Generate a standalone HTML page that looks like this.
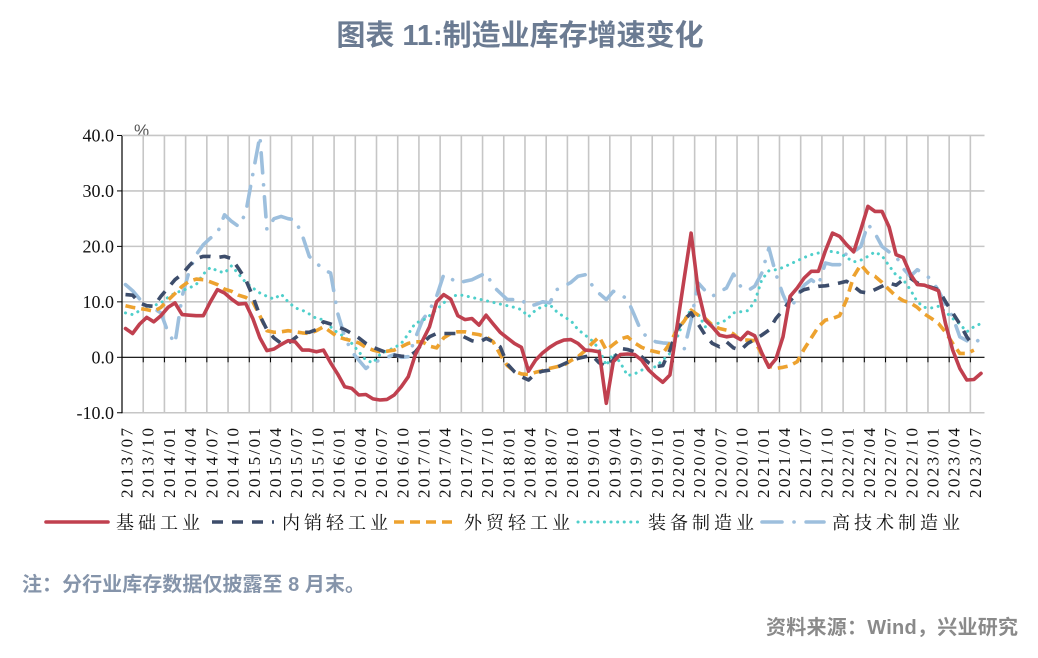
<!DOCTYPE html>
<html><head><meta charset="utf-8"><style>
body{margin:0;background:#fff;width:1038px;height:658px;overflow:hidden;font-family:"Liberation Sans","Noto Sans CJK SC",sans-serif}
svg{position:absolute;left:0;top:0}
</style></head><body>
<svg id="chart" width="1038" height="658" xmlns="http://www.w3.org/2000/svg">
<text x="520" y="45" text-anchor="middle" font-family="'Liberation Sans','Noto Sans CJK SC',sans-serif" font-size="29" font-weight="bold" fill="#6b7b92">图表 11:制造业库存增速变化</text>
<text x="134" y="136" font-family="'Liberation Sans',sans-serif" font-size="17" fill="#555">%</text>
<g id="grid"></g><g id="axes"></g><g id="series"></g><g id="legend"></g>
<text x="22" y="591" font-family="'Liberation Sans','Noto Sans CJK SC',sans-serif" font-size="20" font-weight="bold" fill="#8594aa" textLength="343" lengthAdjust="spacing">注：分行业库存数据仅披露至 8 月末。</text>
<text x="1018" y="634" text-anchor="end" font-family="'Liberation Sans','Noto Sans CJK SC',sans-serif" font-size="20" font-weight="bold" fill="#8a8a8a" textLength="252" lengthAdjust="spacing">资料来源：Wind，兴业研究</text>
</svg>
<script>
const yTicks=[40,30,20,10,0,-10];
const yTickLabels=["40.0","30.0","20.0","10.0","0.0","-10.0"];
const startYear=2013, startMonth=7, nMonths=122;
const basicIndustry=[5.2,4.3,6,7.2,6.4,7.5,9,9.8,7.7,7.6,7.5,7.5,10,12.2,11.6,10.5,9.6,9.7,7,3.5,1.2,1.5,2.3,3,2.8,1.3,1.3,1,1.3,-1,-3,-5.3,-5.6,-6.8,-6.7,-7.5,-7.7,-7.6,-6.8,-5.3,-3.5,0.5,3,5.5,10,11.3,10.5,7.5,6.8,7,5.8,7.6,6,4.5,3.5,2.5,1.8,-2.5,-0.5,0.8,1.8,2.6,3.1,3.2,2.5,1.3,1.2,1,-8.3,-0.8,0.5,0.6,0.5,-0.5,-2.3,-3.5,-4.5,-3.2,5.5,14,22.4,12,6.7,5.5,4,3.7,3.9,3.2,4.5,3.9,0.8,-1.8,-0.3,3.7,11,12.5,14.3,15.5,15.5,19.2,22.4,21.8,20.3,19,23,27.2,26.3,26.3,23.5,18.5,18,15,13.1,13,12.5,12,6,1.3,-2,-4.1,-4,-2.9];
const domesticLight=[11.3,11.2,9.8,9.3,9.2,11,12.5,14,15,16.5,17.8,18.2,18.2,18,18.2,17.8,16,14,11,7.5,5,3.5,2.5,2.5,3.5,4.5,4.5,5,6.4,6,5.5,5,4.3,3.5,2.5,1.8,1.3,0.8,0.4,0.2,0.1,1,2.5,3.7,4.3,4.3,4.3,4.3,3.6,3,2.7,3.4,2.8,1.9,-1.2,-2.6,-3.5,-4.1,-2.9,-2.5,-2.3,-1.8,-1.2,-0.6,-0.2,0.1,0.3,-1,-1.7,-0.5,1.6,1.4,1,0.1,-1,-1.7,-1.5,1.3,5,6.7,8,6,4,2.5,1.9,2.8,1.7,1.3,2.5,3.2,4,4.9,7,8.5,10.2,11.5,12.2,12.5,12.8,12.9,13.1,13.4,13.7,12.8,11.8,11.6,12.2,12.8,13.4,13,14,14.3,13.4,13,12.6,12.2,10,8,6,3.7,1.9,null];
const exportLight=[9.3,9,8.8,8.6,8.3,9,10.3,11.5,12.8,13.7,14.1,14,13.6,13.1,12.3,11.9,11.2,10.8,10,7.5,4.8,4.5,4.6,4.8,4.6,4.4,4.3,4.8,5.5,4.6,3.7,3.3,3,2.6,1.8,1.3,1,1.1,1.3,1.9,2.5,2.8,2.8,2,1.7,3.5,4.3,4.6,4.6,4.3,4.1,3.7,2.8,0.5,-1.5,-2.5,-3,-3.1,-2.7,-2.4,-2,-1.7,-1.4,-0.6,0.1,1.2,2.5,3.7,1.3,2.3,3.3,3.7,2.6,1.8,1.3,1,0.7,2.5,5,6.5,8.5,7.6,7,5.8,5.2,4.9,4.2,3.1,3.1,3,0.5,-1.6,-2,-1.8,-1.5,-0.8,1.5,3.5,5.5,6.7,7,7.5,10.4,14.6,16.7,15.2,14.6,13.5,12.2,11,10.2,9.8,9,7.8,7,6.1,4.5,2.5,0.7,0.7,1.3,null];
const equipment=[8,7.7,8.4,9,9.3,9.8,10.8,11.6,12,12.5,13.1,15,16.2,15.6,15.2,16.5,15,13.5,12.5,11.6,11,10.5,11.4,10,8.9,8.5,7.8,7,6.8,5.5,4.4,3.7,2.5,1,-0.5,-1,0.5,1.2,1.7,2.5,4.2,6.2,6.6,7.5,8.6,9.8,10.8,11.3,11.1,10.8,10.5,10.2,9.9,9.6,9.3,9,8.6,7.3,8.5,9.2,9.5,8.2,7.3,6.6,5,4,3,1.5,-1.5,0.7,-1,-3.3,-3,-2.3,-2,-1.7,-0.5,0.7,3.5,6.7,8.6,7.8,5.5,5.8,6.2,6.7,8,8.2,8.4,10,14,15.6,15.8,16.2,16.8,17.4,18,18.5,18.8,19,19.1,18.8,18,17.2,17.5,18.2,19,18.3,16.5,14.8,14,12.2,10,9,8.9,9.2,8.2,7,6,4.6,5.5,6.1];
const highTech=[13.1,12,10.5,8.6,8.8,8,4.5,2.5,11,15.5,18.5,20.3,21.5,22.4,25.7,24.5,23.6,26,33,39.9,23,25,25.4,25,24.8,22,18.2,17,15.8,15.2,8,3.7,1,-0.5,-2,-1,-0.5,0,0.5,0,0.1,3.5,6.7,8.5,11,14.9,14.2,13.4,13.7,14,14.6,15.2,12.8,11.6,10.4,10.4,10.4,9.2,9.5,10,9.8,12.2,12.8,13.5,14.6,14.9,13,11.5,10.4,11.9,11.4,10.4,7.5,4.5,3.5,2.8,2.6,2.5,1.8,1.3,6.7,13.4,12,11,11.8,12.5,15,12.8,12,12.8,15.2,19.7,15,11.3,8.5,11,13,14,13,17,16.7,16.7,18.8,19,20,24,22.4,20,19,18.2,16,14.6,15.8,15,14,12,9.5,7.3,3.7,3,2.5,3.4];
const seriesNames=["基础工业","内销轻工业","外贸轻工业","装备制造业","高技术制造业"];

const NS="http://www.w3.org/2000/svg";
const L=122,R=984.5,T=136,B=413.3;
const mw=(R-L)/nMonths;
const xPos=i=>L+(i+0.5)*mw;
const yPos=v=>357.3-v*(B-T)/50;
function mk(t,a,p){const e=document.createElementNS(NS,t);for(const k in a)e.setAttribute(k,a[k]);p.appendChild(e);return e;}
const grid=document.getElementById('grid'),axes=document.getElementById('axes'),ser=document.getElementById('series'),leg=document.getElementById('legend');
yTicks.forEach((v,k)=>{
  if(v!==0){const g=mk('line',{x1:L,x2:R,y1:yPos(v),y2:yPos(v),stroke:'#c6c6c6','stroke-width':1.6},grid);
  
  }
  const t=mk('text',{x:114,y:yPos(v)+6,'text-anchor':'end','font-family':"'Liberation Serif',serif",'font-size':18,fill:'#111'},axes);
  t.textContent=yTickLabels[k];
  
  
  const tk=mk('line',{x1:L-5,x2:L,y1:yPos(v),y2:yPos(v),stroke:'#000','stroke-width':1},axes);
  
  
});
for(let m=0;m<=nMonths;m+=3){
  const x=L+m*mw;
  if(m>0){const g=mk('line',{x1:x,x2:x,y1:T,y2:B,stroke:'#c6c6c6','stroke-width':1.6},grid);
  
  }
  const tk=mk('line',{x1:x,x2:x,y1:yPos(0),y2:yPos(0)+5,stroke:'#000','stroke-width':1},axes);
  
  
  if(m<nMonths){
    const tot=startMonth-1+m;const yr=startYear+Math.floor(tot/12);const mo=tot%12+1;
    const cx=xPos(m)+1;
    const t=mk('text',{x:0,y:0,transform:`translate(${cx+6},498) rotate(-90)`,'font-family':"'Liberation Serif',serif",'font-size':17,fill:'#111',textLength:70,lengthAdjust:'spacing'},axes);
    t.textContent=yr+'/'+String(mo).padStart(2,'0');
    
    
  }
}
const ya=mk('line',{x1:L,x2:L,y1:T,y2:B,stroke:'#000','stroke-width':1.2},axes);


const za=mk('line',{x1:L,x2:R,y1:yPos(0),y2:yPos(0),stroke:'#000','stroke-width':1.2},axes);


const styles=[
 {c:'#c0404f',w:3.6,d:'',cap:'round'},
 {c:'#3d4d6b',w:3.6,d:'11 9',cap:'butt'},
 {c:'#eda22f',w:3.6,d:'10 6',cap:'butt'},
 {c:'#4fcfcb',w:3,d:'0.1 6.5',cap:'round'},
 {c:'#9dbfdd',w:3.6,d:'20 12 0.1 12',cap:'round'}];
const data=[basicIndustry,domesticLight,exportLight,equipment,highTech];
const snames=['series-basic-industry','series-domestic-light','series-export-light','series-equipment','series-high-tech'];
[4,3,2,1,0].forEach(s=>{
  let d='',pen=false;
  data[s].forEach((v,i)=>{if(v===null){pen=false;return;}d+=(pen?'L':'M')+xPos(i).toFixed(1)+' '+yPos(v).toFixed(1);pen=true;});
  const p=mk('path',{d:d,fill:'none',stroke:styles[s].c,'stroke-width':styles[s].w,'stroke-dasharray':styles[s].d,'stroke-linecap':styles[s].cap,'stroke-linejoin':'round'},ser);
  
  
});
const lx=[46,212,394,578,762];
seriesNames.forEach((n,s)=>{
  const g=mk('g',{},leg);
  
  
  mk('line',{x1:lx[s],x2:lx[s]+62,y1:522,y2:522,stroke:styles[s].c,'stroke-width':styles[s].w,'stroke-dasharray':styles[s].d,'stroke-linecap':styles[s].cap},g);
  const t=mk('text',{x:lx[s]+70,y:529,'font-family':"'Noto Serif CJK SC','Noto Sans CJK SC',serif",'font-size':18,fill:'#111','letter-spacing':4},g);
  t.textContent=n;
});
</script>
</body></html>
